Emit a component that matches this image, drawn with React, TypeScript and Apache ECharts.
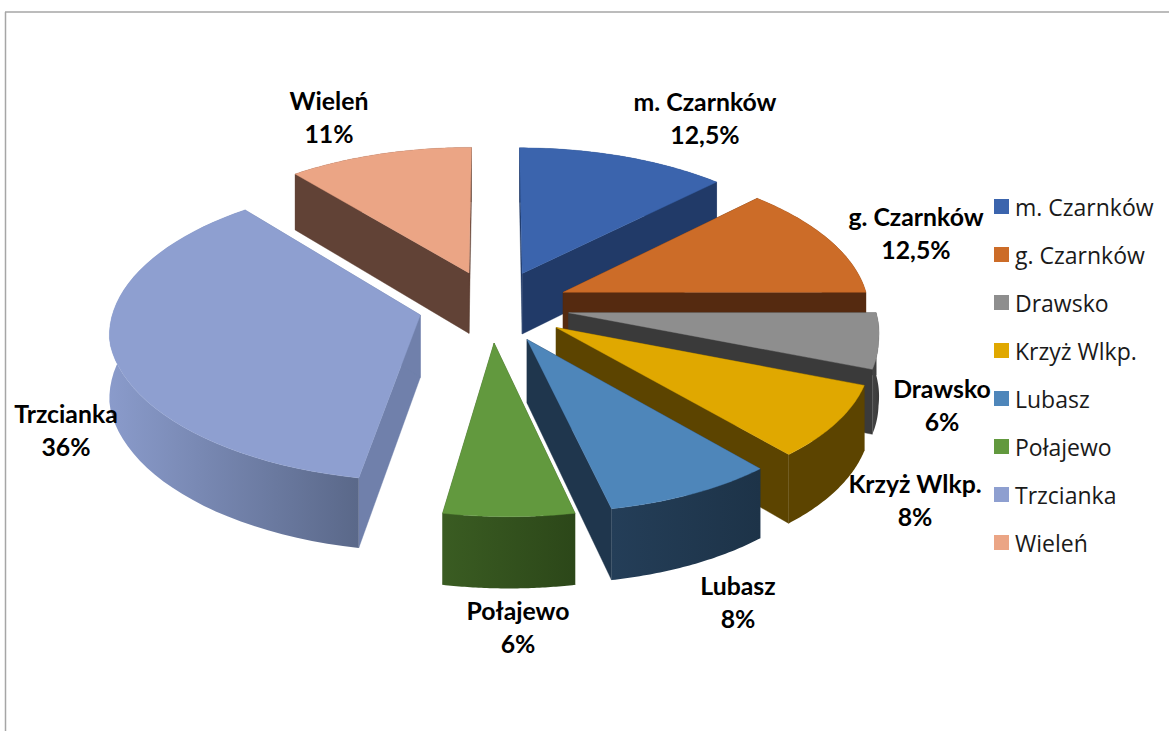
import React, { useEffect, useRef } from "react";
import * as echarts from "echarts";

const categories = ["m. Czarnków", "g. Czarnków", "Drawsko", "Krzyż Wlkp.", "Lubasz", "Połajewo", "Trzcianka", "Wieleń"];
const shares = [12.5, 12.5, 6, 8, 8, 6, 36, 11];

const topColors = ["#3B64AD", "#CC6C28", "#8E8E8E", "#E0A800", "#4E86BA", "#62993E", "#8E9FD0", "#EBA585"];
const sideColors = ["#213A68", "#552A10", "#3A3A3A", "#5C4400", "#1F364D", "#37561F", "#7080AB", "#614236"];
const wallFrom = ["#213A68", "#552A10", "#444444", "#5C4400", "#243E58", "#3A5C22", "#8A9BCB", "#614236"];
const wallTo = ["#213A68", "#552A10", "#3A3A3A", "#5C4400", "#1D3348", "#2C4719", "#5A6889", "#614236"];
const drawOrder = [7, 0, 6, 1, 2, 3, 4, 5];
const labelCentres = [[705, 118], [916, 233], [942, 405], [915, 500], [738, 602], [518, 627], [66, 430], [329, 117]];

const CX = 494, CY = 306, RX = 306, RY = 146, K = 0.109, DEPTH = 62, EXPLODE = 0.247, FRONT_SHIFT = 15;

function project(X: number, Y: number, down: number): number[] {
  const w = 1 + K * Y;
  const shift = FRONT_SHIFT * Math.max(0, -Y - 0.24);
  return [CX + shift + (RX * X) / w, CY - (RY * Y) / w + (down * DEPTH) / w];
}

function App() {
  const ref = useRef<HTMLDivElement>(null);
  useEffect(() => {
    const chart = echarts.init(ref.current!, null, { renderer: "svg" });
    const total = shares.reduce((a, b) => a + b, 0);
    const starts: number[] = [];
    shares.reduce((acc, v, i) => { starts[i] = acc; return acc + v; }, 0);

    const renderSlice = (i: number) => (_p: any, api: any) => {
      const value = api.value(0) as number;
      const a0 = (starts[i] / total) * Math.PI * 2;
      const a1 = a0 + (value / total) * Math.PI * 2;
      const mid = (a0 + a1) / 2;
      const ox = EXPLODE * Math.sin(mid), oy = EXPLODE * Math.cos(mid);
      const steps = 48;
      const arcTop: number[][] = [], arcBot: number[][] = [];
      for (let s = 0; s <= steps; s++) {
        const t = a0 + ((a1 - a0) * s) / steps;
        const X = ox + Math.sin(t), Y = oy + Math.cos(t);
        arcTop.push(project(X, Y, 0));
        arcBot.push(project(X, Y, 1));
      }
      const apexTop = project(ox, oy, 0), apexBot = project(ox, oy, 1);
      const poly = (points: number[][], fill: any) => ({
        type: "polygon", silent: true,
        shape: { points },
        style: { fill, stroke: typeof fill === "string" ? fill : "none", lineWidth: 0.4 },
      });
      const wallFill = new echarts.graphic.LinearGradient(0, 0, 1, 0, [
        { offset: 0, color: wallFrom[i] },
        { offset: 1, color: wallTo[i] },
      ]);
      return {
        type: "group",
        children: [
          poly([apexTop, arcTop[0], arcBot[0], apexBot], sideColors[i]),
          poly([apexTop, arcTop[steps], arcBot[steps], apexBot], sideColors[i]),
          poly([...arcTop, ...arcBot.slice().reverse()], wallFill),
          poly([apexTop, ...arcTop], topColors[i]),
        ],
      };
    };

    chart.setOption({
      animation: false,
      backgroundColor: "#ffffff",
      legend: {
        orient: "vertical", left: 994, top: 195, padding: 0, icon: "rect",
        itemWidth: 15, itemHeight: 15, itemGap: 25, selectedMode: false,
        data: categories,
        textStyle: { fontFamily: "Open Sans", fontSize: 23, color: "#1a1a1a", padding: [0, 0, 0, 1] },
      },
      graphic: [
        { type: "line", silent: true, shape: { x1: 5.5, y1: 12, x2: 5.5, y2: 731 }, style: { stroke: "#a6a6a6", lineWidth: 1.5 } },
        { type: "line", silent: true, shape: { x1: 5, y1: 12, x2: 1169, y2: 12 }, style: { stroke: "#a6a6a6", lineWidth: 1.5 } },
        ...categories.map((name, i) => ({
          type: "text", silent: true, z: 50,
          style: {
            x: labelCentres[i][0], y: labelCentres[i][1],
            text: `${name}\n${String(shares[i]).replace(".", ",")}%`,
            align: "center", verticalAlign: "middle", lineHeight: 33,
            font: "bold 24.8px Lato", fill: "#000000",
          },
        })),
      ],
      series: categories.map((name, i) => ({
        type: "custom", name, coordinateSystem: "none", silent: true,
        z: 2 + drawOrder.indexOf(i),
        itemStyle: { color: topColors[i] },
        data: [[shares[i]]],
        renderItem: renderSlice(i),
      })),
    });
    return () => chart.dispose();
  }, []);
  return <div ref={ref} style={{ position: "fixed", left: 0, top: 0, width: 1169, height: 731 }} />;
}

export default App;
